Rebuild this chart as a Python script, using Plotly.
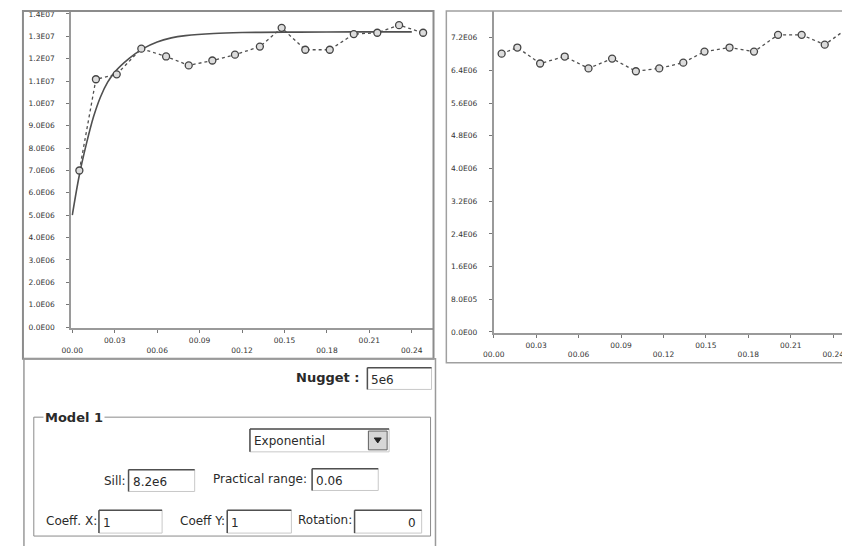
import plotly.graph_objects as go

OX, OY = 8, 8              # page body margin offset
W, H = 850 - OX, 546 - OY  # figure fits exactly in the window

# ---------------- data ----------------
lag_left = [0.005, 0.0167, 0.0314, 0.0488, 0.0663, 0.0823, 0.099, 0.115,
            0.1326, 0.148, 0.1647, 0.182, 0.199, 0.2156, 0.231, 0.248]
gamma_left = [7.0e6, 11.08e6, 11.30e6, 12.45e6, 12.10e6, 11.70e6, 11.92e6, 12.18e6,
              12.54e6, 13.38e6, 12.40e6, 12.40e6, 13.10e6, 13.16e6, 13.50e6, 13.16e6]

model_lag = [0.0, 0.005, 0.01, 0.015, 0.02, 0.025, 0.03, 0.04, 0.05, 0.06,
             0.07, 0.08, 0.10, 0.12, 0.16, 0.20, 0.24]
model_gamma = [5.0e6, 6.8e6, 8.2e6, 9.4e6, 10.3e6, 10.95e6, 11.4e6, 12.0e6, 12.45e6, 12.75e6,
               12.93e6, 13.03e6, 13.13e6, 13.17e6, 13.19e6, 13.2e6, 13.2e6]

lag_right = [0.0056, 0.0167, 0.0328, 0.0502, 0.067, 0.0837, 0.1005, 0.117,
             0.134, 0.149, 0.1667, 0.184, 0.201, 0.2177, 0.234, 0.2505]
gamma_right = [6.81e6, 6.96e6, 6.57e6, 6.74e6, 6.45e6, 6.69e6, 6.38e6, 6.45e6,
               6.59e6, 6.86e6, 6.96e6, 6.86e6, 7.27e6, 7.27e6, 7.03e6, 7.44e6]

x_tickvals = [0.0, 0.03, 0.06, 0.09, 0.12, 0.15, 0.18, 0.21, 0.24]
x_ticktext = ["00.00", "00.03", "00.06", "00.09", "00.12", "00.15", "00.18", "00.21", "00.24"]

yl_tickvals = [i * 1e6 for i in range(15)]
yl_ticktext = ["0.0E00", "1.0E06", "2.0E06", "3.0E06", "4.0E06", "5.0E06", "6.0E06",
               "7.0E06", "8.0E06", "9.0E06", "1.0E07", "1.1E07", "1.2E07", "1.3E07", "1.4E07"]

yr_tickvals = [i * 0.8e6 for i in range(10)]
yr_ticktext = ["0.0E00", "8.0E05", "1.6E06", "2.4E06", "3.2E06", "4.0E06",
               "4.8E06", "5.6E06", "6.4E06", "7.2E06"]

nugget_txt = "5e6"
model_type = "Exponential"
sill_txt = "8.2e6"
range_txt = "0.06"
coeffx_txt = "1"
coeffy_txt = "1"
rotation_txt = "0"

# ---------------- helpers (screen pixel -> paper) ----------------
def px(x):
    return (x - OX) / W

def py(y):
    return 1 - (y - OY) / H

LINE = "#505050"
MK = dict(symbol="circle", size=7, color="#dcdcdc", line=dict(color="#444", width=1.3))
FONT = "DejaVu Sans"

fig = go.Figure()

fig.add_trace(go.Scatter(x=model_lag, y=model_gamma, mode="lines", line=dict(color=LINE, width=1.6, shape="spline"),
                         xaxis="x", yaxis="y", hoverinfo="skip", showlegend=False))
fig.add_trace(go.Scatter(x=lag_left, y=gamma_left, mode="lines+markers",
                         line=dict(color=LINE, width=1.3, dash="3px,3px"), marker=MK,
                         xaxis="x", yaxis="y", showlegend=False, cliponaxis=False))
fig.add_trace(go.Scatter(x=lag_right, y=gamma_right, mode="lines+markers",
                         line=dict(color=LINE, width=1.3, dash="3px,3px"), marker=MK,
                         xaxis="x2", yaxis="y2", showlegend=False, cliponaxis=False))
# dummy traces so the overlay label axes are drawn
fig.add_trace(go.Scatter(x=[None], y=[None], xaxis="x3", yaxis="y", showlegend=False, hoverinfo="skip"))
fig.add_trace(go.Scatter(x=[None], y=[None], xaxis="x4", yaxis="y2", showlegend=False, hoverinfo="skip"))

tickfont = dict(family=FONT, size=7.5, color="#333")

def odd_text():
    return [t if i % 2 == 1 else "" for i, t in enumerate(x_ticktext)]

def even_text():
    return [t if i % 2 == 0 else "" for i, t in enumerate(x_ticktext)]

xl_range = [(61 - 62) / 43 * 0.03, (427 - 62) / 43 * 0.03]
xr_range = [0, (850 - 489) / 43 * 0.03]

common_x = dict(showgrid=False, zeroline=False, tickmode="array", tickvals=x_tickvals,
                tickfont=tickfont, fixedrange=True)

fig.update_layout(
    width=W, height=H, margin=dict(l=0, r=0, t=0, b=0),
    paper_bgcolor="white", plot_bgcolor="white",
    xaxis=dict(domain=[px(61), px(427)], range=xl_range, anchor="y", ticktext=odd_text(),
               showline=True, linecolor="#9a9a9a", linewidth=2, ticks="outside", ticklen=3,
               tickcolor="#777", ticklabelstandoff=1, **common_x),
    xaxis3=dict(domain=[px(61), px(427)], range=xl_range, anchor="y", overlaying="x", side="bottom",
                ticktext=even_text(), showline=False, ticks="", ticklabelstandoff=16, **common_x),
    yaxis=dict(domain=[py(330), py(10)], range=[(329 - 330) / 22.57 * 1e6, (329 - 10) / 22.57 * 1e6],
               anchor="x", showgrid=False, zeroline=False, tickmode="array", tickvals=yl_tickvals,
               ticktext=yl_ticktext, tickfont=tickfont, showline=True, linecolor="#9a9a9a", linewidth=2,
               ticks="outside", ticklen=3, tickcolor="#777", ticklabelstandoff=10, fixedrange=True),
    xaxis2=dict(domain=[px(489), 1.0], range=xr_range, anchor="y2", ticktext=odd_text(),
                showline=True, linecolor="#9a9a9a", linewidth=2, ticks="outside", ticklen=3,
                tickcolor="#777", ticklabelstandoff=1, **common_x),
    xaxis4=dict(domain=[px(489), 1.0], range=xr_range, anchor="y2", overlaying="x2", side="bottom",
                ticktext=even_text(), showline=False, ticks="", ticklabelstandoff=16, **common_x),
    yaxis2=dict(domain=[py(335), py(10)], range=[-1 / 41.25 * 1e6, (334 - 10) / 41.25 * 1e6],
                anchor="x2", showgrid=False, zeroline=False, tickmode="array", tickvals=yr_tickvals,
                ticktext=yr_ticktext, tickfont=tickfont, showline=True, linecolor="#9a9a9a", linewidth=2,
                ticks="outside", ticklen=3, tickcolor="#777", ticklabelstandoff=10, fixedrange=True),
)

shapes = []
ann = []

def rect(x0, y0, x1, y1, color="#8c8c8c", width=2, fill=None):
    shapes.append(dict(type="rect", xref="paper", yref="paper", x0=px(x0), y0=py(y0), x1=px(x1), y1=py(y1),
                       line=dict(color=color, width=width), fillcolor=fill, layer="above"))

def line(x0, y0, x1, y1, color="#555", width=1):
    shapes.append(dict(type="line", xref="paper", yref="paper", x0=px(x0), y0=py(y0), x1=px(x1), y1=py(y1),
                       line=dict(color=color, width=width), layer="above"))

def text(x, y, s, size=12, xanchor="left", bold=False, color="#2a2a2a", bg=None):
    ann.append(dict(xref="paper", yref="paper", x=px(x), y=py(y), text=("<b>%s</b>" % s) if bold else s,
                    showarrow=False, xanchor=xanchor, yanchor="middle",
                    font=dict(family=FONT, size=size, color=color),
                    bgcolor=bg, borderpad=1))

def inputbox(x0, y0, x1, y1, s, align="left"):
    rect(x0, y0, x1, y1, color="#c8c8c8", width=1, fill="white")
    line(x0, y0, x1, y0, color="#505050", width=1.5)
    line(x0, y0, x0, y1, color="#505050", width=1.5)
    if align == "left":
        text(x0 + 2, (y0 + y1) / 2 + 1, s, size=12)
    else:
        text(x1 - 4, (y0 + y1) / 2 + 1, s, size=12, xanchor="right")

# chart frames
rect(12, 10, 428, 361, color="#8c8c8c", width=2)
rect(441, 10, 870, 365, color="#a0a0a0", width=1.5)
# parameter panel
rect(13, 361, 430, 570, color="#9a9a9a", width=1.5)
rect(23, 420, 425, 540, color="#8a8a8a", width=1)

# nugget
text(356, 380, "Nugget :", size=13, xanchor="right", bold=True)
inputbox(361, 370, 426, 392, nugget_txt)

# model group
text(32, 420, "Model 1", size=13, bold=True, bg="white")

# dropdown
inputbox(242, 432, 383, 455, model_type)
rect(362, 434, 381, 453, color="#606060", width=1, fill="#d6d6d6")
shapes.append(dict(type="path", xref="paper", yref="paper",
                   path="M %f %f L %f %f L %f %f Z" % (px(368), py(441), px(375), py(441), px(371.5), py(446)),
                   fillcolor="#222", line=dict(color="#222", width=1), layer="above"))

text(118, 484, "Sill:", xanchor="right")
inputbox(119, 473, 186, 495, sill_txt)
text(302, 482, "Practical range:", xanchor="right")
inputbox(305, 472, 372, 494, range_txt)

text(89, 525, "Coeff. X:", xanchor="right")
inputbox(89, 514, 153, 537, coeffx_txt)
text(219, 525, "Coeff Y:", xanchor="right")
inputbox(219, 514, 284, 537, coeffy_txt)
text(347, 524, "Rotation:", xanchor="right")
inputbox(348, 514, 416, 537, rotation_txt, align="right")

fig.update_layout(shapes=shapes, annotations=ann)

fig.write_html("out.html")
